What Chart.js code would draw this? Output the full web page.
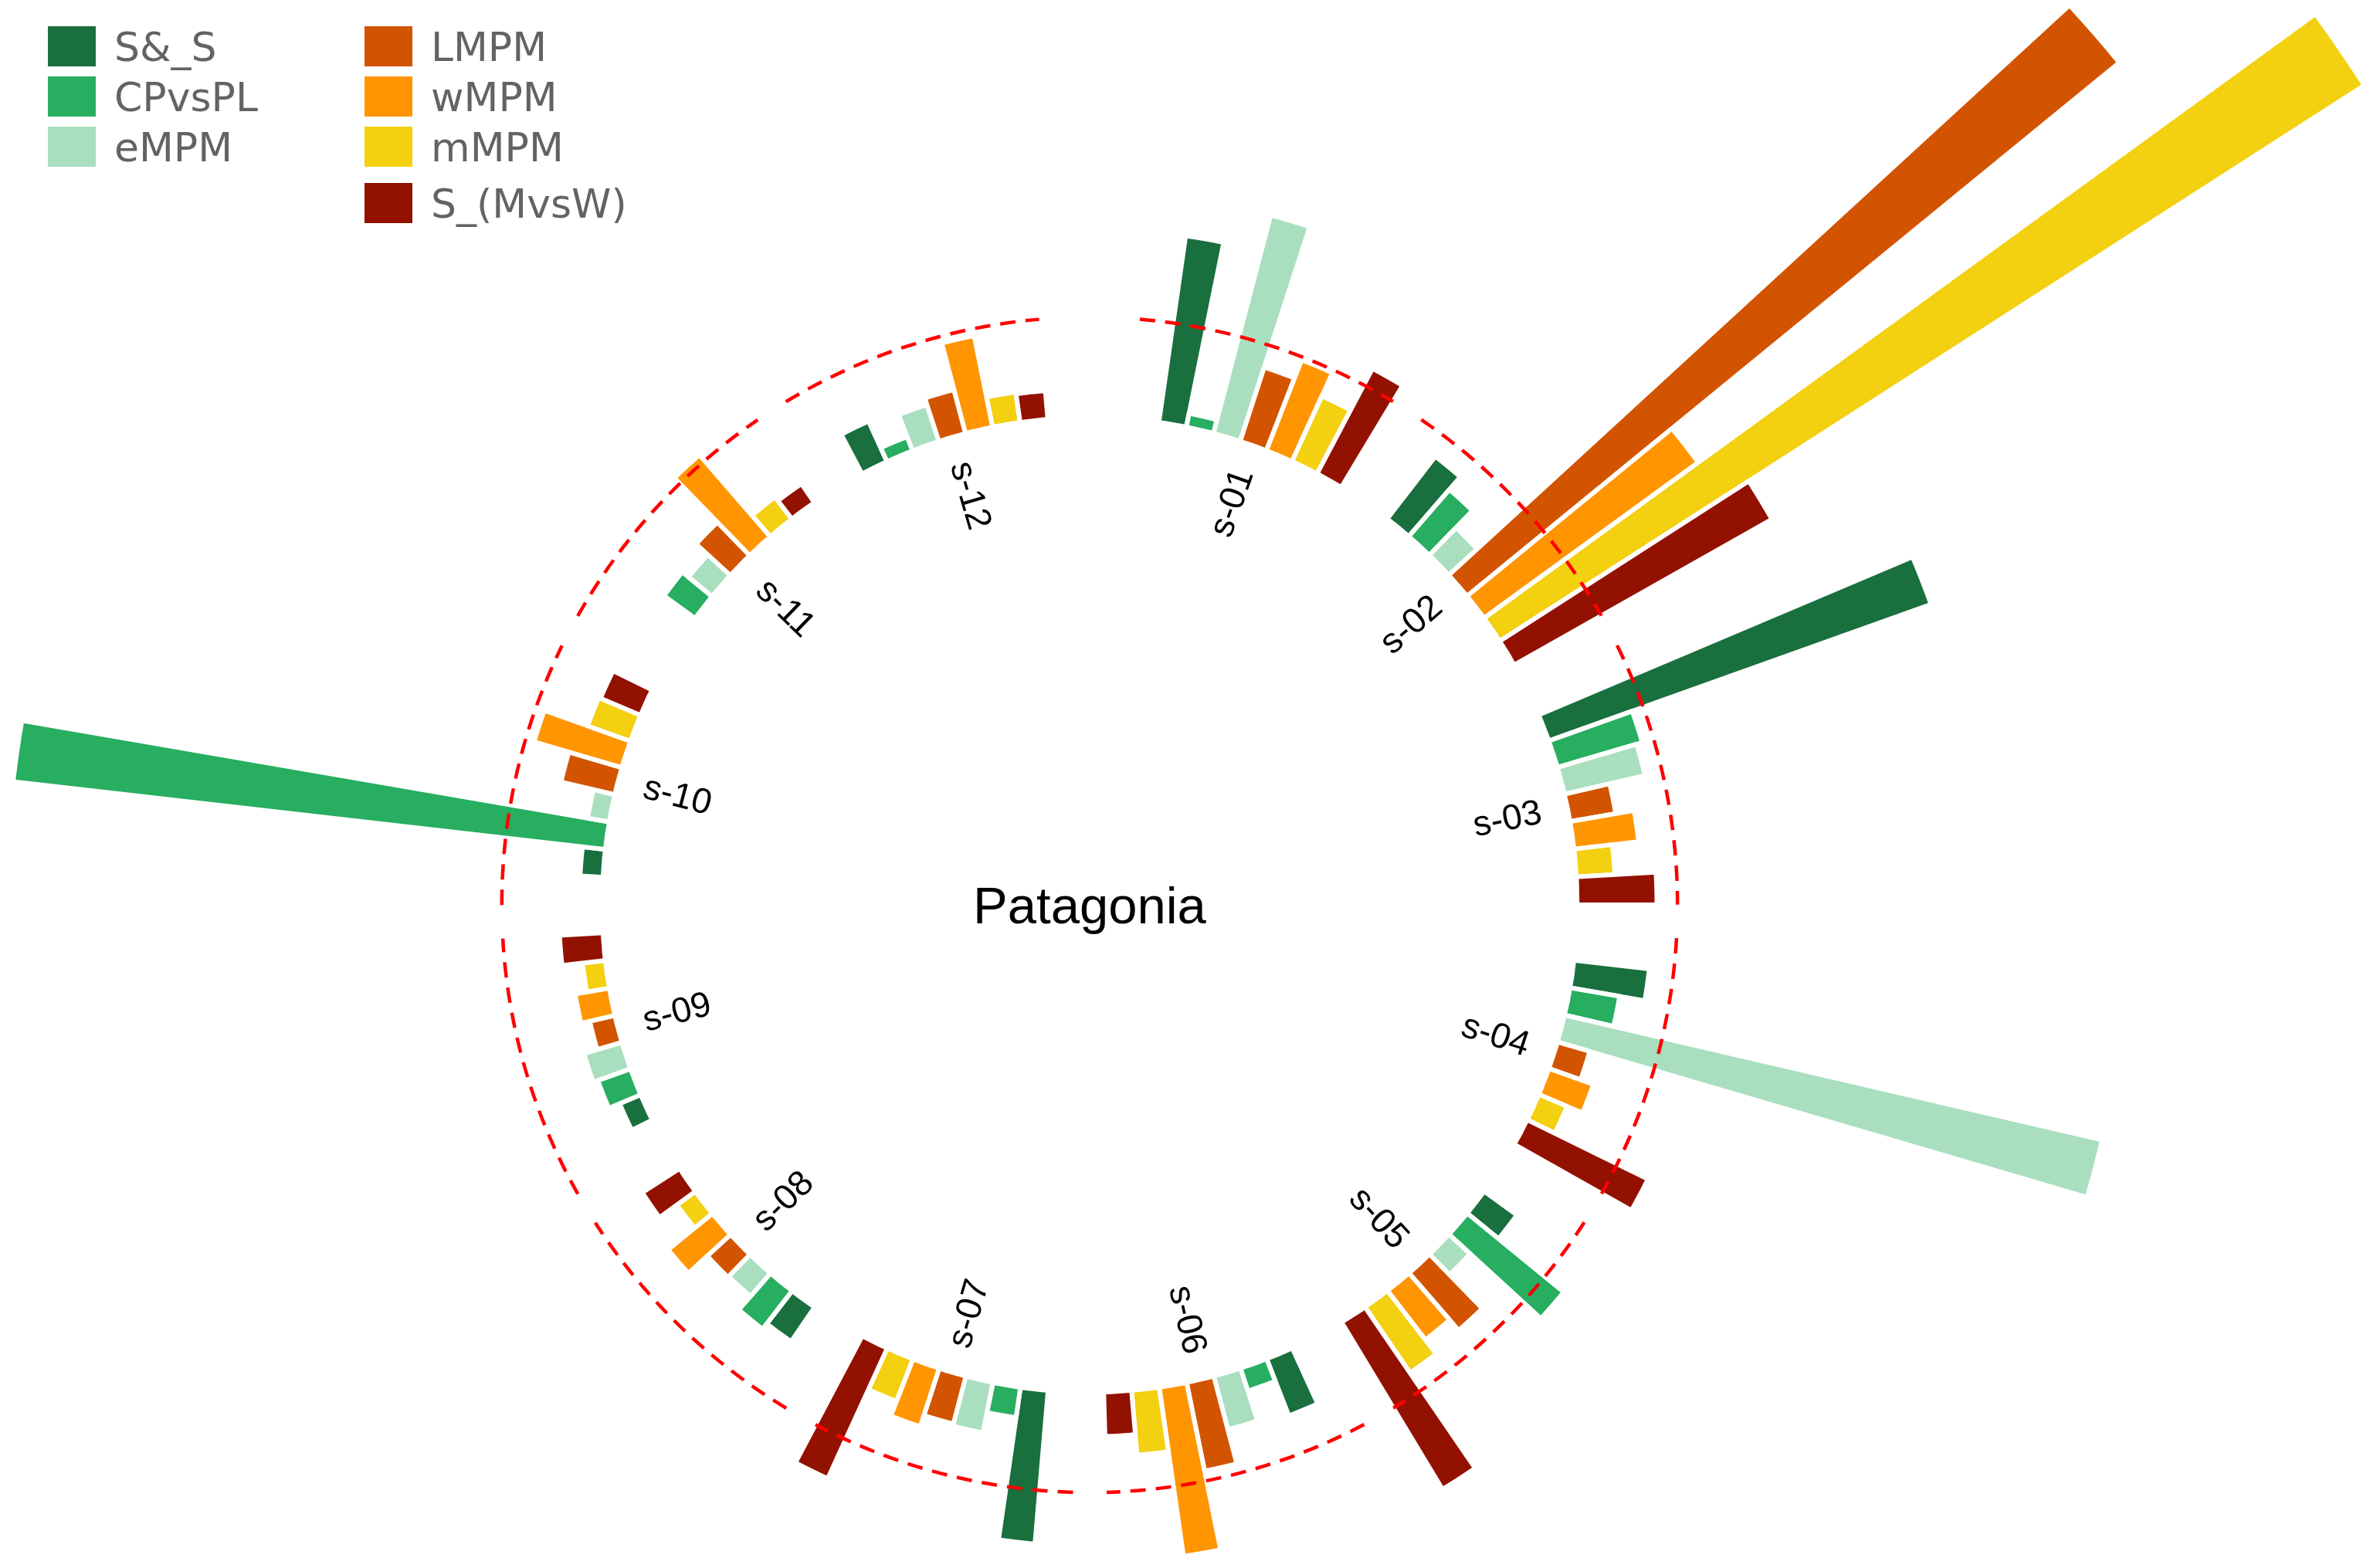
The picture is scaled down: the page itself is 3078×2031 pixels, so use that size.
<!DOCTYPE html>
<html>
<head>
<meta charset="utf-8">
<script src="https://cdn.jsdelivr.net/npm/chart.js@4.4.1/dist/chart.umd.min.js"></script>
<style>
  html, body { margin: 0; padding: 0; background: #ffffff; }
  #wrap { width: 3078px; height: 2031px; position: relative; }
</style>
</head>
<body>
<div id="wrap"><canvas id="c" width="3078" height="2031"></canvas></div>
<script>
// ---------------- data ----------------
const groups = ['s-01','s-02','s-03','s-04','s-05','s-06','s-07','s-08','s-09','s-10','s-11','s-12'];
const seriesNames = ['S&_S','CPvsPL','eMPM','LMPM','wMPM','mMPM','S_(MvsW)'];
const seriesColors = ['#196f3e','#27ae60','#a9dfbf','#d35400','#ff9500','#f3d010','#931100'];

const valSandS   = [1.90, 0.78, 4.12, 0.75, 0.39, 0.60, 1.55, 0.40, 0.21, 0.21, 0.01, 0.43];
const valCPvsPL  = [0.12, 0.61, 0.88, 0.49, 1.25, 0.22, 0.29, 0.47, 0.33, 6.06, 0.37, 0.13];
const valEMPM    = [2.28, 0.37, 0.82, 5.61, 0.27, 0.54, 0.50, 0.29, 0.38, 0.20, 0.29, 0.37];
const valLMPM    = [0.77, 8.58, 0.45, 0.32, 0.75, 0.90, 0.48, 0.30, 0.24, 0.54, 0.45, 0.44];
const valWMPM    = [0.97, 2.68, 0.64, 0.46, 0.61, 1.72, 0.60, 0.56, 0.33, 0.91, 1.08, 0.93];
const valMMPM    = [0.71, 10.47, 0.37, 0.29, 0.79, 0.64, 0.44, 0.21, 0.21, 0.44, 0.26, 0.29];
const valSMvsW   = [1.19, 3.00, 0.79, 1.35, 1.97, 0.43, 1.44, 0.43, 0.42, 0.42, 0.21, 0.27];
const seriesValues = [valSandS, valCPvsPL, valEMPM, valLMPM, valWMPM, valMMPM, valSMvsW];

const centerTitle = 'Patagonia';
const thresholdValue = 1;     // red dashed reference circle
const labelValue = -1;        // radial position of group labels
const axisMin = -5;           // value at the centre of the plot
const axisMax = 1.7;
const emptyBetween = 2;       // empty slots between groups
const emptyTop = 4;           // empty slots after the last group
const firstBarCenterDeg = 9.8;

// ---------------- build slots ----------------
const slotValues = [], slotColors = [], slotBorder = [], slotLabels = [];
groups.forEach((g, gi) => {
  seriesNames.forEach((s, si) => {
    slotValues.push(seriesValues[si][gi]);
    slotColors.push(seriesColors[si]);
    slotBorder.push(6);
    slotLabels.push(g + ' ' + s);
  });
  const nEmpty = gi < groups.length - 1 ? emptyBetween : emptyTop;
  for (let k = 0; k < nEmpty; k++) {
    slotValues.push(axisMin);
    slotColors.push('rgba(0,0,0,0)');
    slotBorder.push(0);
    slotLabels.push('');
  }
});
const slotDeg = 360 / slotValues.length;
const startDeg = firstBarCenterDeg - slotDeg / 2;
const groupStride = seriesNames.length + emptyBetween;

// ---------------- decorations plugin ----------------
const deg2rad = d => (d - 90) * Math.PI / 180;
const decor = {
  id: 'decor',
  afterDatasetsDraw(chart) {
    const sc = chart.scales.r;
    const ctx = chart.ctx;
    const cx = sc.xCenter, cy = sc.yCenter;
    // inner blank disc (bars start at value 0)
    ctx.save();
    ctx.beginPath();
    ctx.arc(cx, cy, sc.getDistanceFromCenterForValue(0), 0, Math.PI * 2);
    ctx.fillStyle = '#ffffff';
    ctx.fill();
    // dashed reference arcs, one per group
    const rd = sc.getDistanceFromCenterForValue(thresholdValue);
    ctx.strokeStyle = '#ff0000';
    ctx.lineWidth = 4.5;
    ctx.setLineDash([20, 13]);
    groups.forEach((g, gi) => {
      const first = gi * groupStride;
      const a0 = startDeg + (first - 1) * slotDeg;
      const a1 = startDeg + (first + seriesNames.length) * slotDeg;
      ctx.beginPath();
      ctx.arc(cx, cy, rd, deg2rad(a0), deg2rad(a1));
      ctx.stroke();
    });
    ctx.setLineDash([]);
    // group labels
    const rl = sc.getDistanceFromCenterForValue(labelValue);
    ctx.fillStyle = '#000000';
    ctx.font = '46px "Liberation Sans", Arial, sans-serif';
    ctx.textBaseline = 'middle';
    groups.forEach((g, gi) => {
      const mid = startDeg + (gi * groupStride + seriesNames.length / 2) * slotDeg;
      const rad = deg2rad(mid);
      const x = cx + rl * Math.cos(rad), y = cy + rl * Math.sin(rad);
      ctx.save();
      ctx.translate(x, y);
      if (mid < 180) { ctx.rotate(rad); ctx.textAlign = 'left'; }
      else { ctx.rotate(rad + Math.PI); ctx.textAlign = 'right'; }
      ctx.fillText(g, 0, 0);
      ctx.restore();
    });
    // centre title
    ctx.font = '67px "Liberation Sans", Arial, sans-serif';
    ctx.textAlign = 'center';
    ctx.textBaseline = 'alphabetic';
    ctx.fillText(centerTitle, cx, cy + 24);
    ctx.restore();
  },
  afterDraw(chart) {
    const ctx = chart.ctx;
    ctx.save();
    const colX = [62, 472];
    const rowsTop = [[34, 99, 164], [34, 99, 164, 237]];
    const split = [[0, 1, 2], [3, 4, 5, 6]];
    ctx.font = '52px "DejaVu Sans", sans-serif';
    ctx.textAlign = 'left';
    ctx.textBaseline = 'alphabetic';
    split.forEach((idxs, c) => {
      idxs.forEach((si, r) => {
        const y = rowsTop[c][r];
        ctx.fillStyle = seriesColors[si];
        ctx.fillRect(colX[c], y, 62, 52);
        ctx.fillStyle = '#636363';
        ctx.fillText(seriesNames[si], colX[c] + 86, y + 26 + 19);
      });
    });
    ctx.restore();
  }
};

// ---------------- chart ----------------
const D = 850, CX = 1411, CY = 1172;
new Chart(document.getElementById('c'), {
  type: 'polarArea',
  data: {
    labels: slotLabels,
    datasets: [{
      data: slotValues,
      backgroundColor: slotColors,
      borderColor: '#ffffff',
      borderWidth: slotBorder,
      clip: false
    }]
  },
  options: {
    responsive: false,
    animation: false,
    events: [],
    layout: { padding: { left: CX - D, right: 3078 - CX - D, top: CY - D, bottom: 2031 - CY - D } },
    scales: {
      r: {
        min: axisMin,
        max: axisMax,
        startAngle: startDeg,
        ticks: { display: false },
        grid: { display: false },
        angleLines: { display: false },
        pointLabels: { display: false }
      }
    },
    plugins: { legend: { display: false }, tooltip: { enabled: false } }
  },
  plugins: [decor]
});
</script>
</body>
</html>
